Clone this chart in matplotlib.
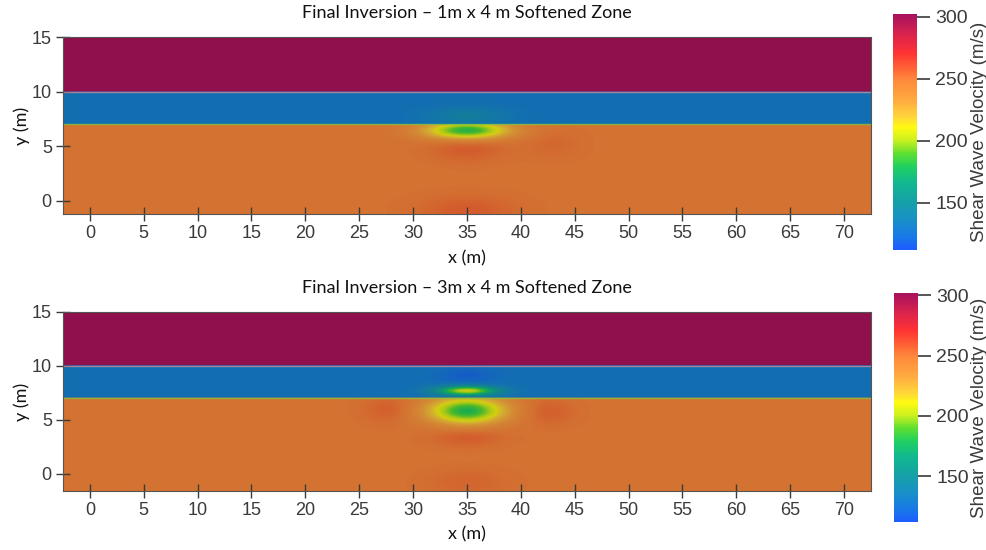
import numpy as np
import matplotlib.pyplot as plt
from matplotlib.colors import LinearSegmentedColormap, Normalize, to_rgb

# model extents (m)
x_min, x_max = -2.5, 72.5
y_max = 15.0
y_mins = [-1.2, -1.6]

# layered background, bottom to top
interfaces = [7.0, 10.0]
interface_colors = ["#8cc23a", "#c4909c"]
layer_vs = [249.0, 130.0, 300.0]

titles = ["Final Inversion – 1m x 4 m Softened Zone",
          "Final Inversion – 3m x 4 m Softened Zone"]

# recovered anomalies: centre x, centre y, spread x, spread y, Vs change (m/s)
anom_x = [[35.0, 35.0, 35.0, 35.0, 43.0],
          [35.0, 35.0, 35.0, 35.0, 35.0, 27.8, 42.5]]
anom_y = [[6.45, 7.8, 4.8, -0.9, 5.2],
          [9.1, 7.65, 5.8, 3.4, -0.8, 5.9, 5.7]]
anom_sx = [[2.7, 2.4, 2.2, 3.0, 1.8],
           [1.9, 1.9, 2.5, 2.2, 2.5, 1.6, 1.6]]
anom_sy = [[0.55, 0.5, 0.8, 0.9, 0.9],
           [0.5, 0.3, 0.85, 0.6, 0.8, 0.8, 0.8]]
anom_dv = [[-68.0, 12.0, 7.0, 7.0, 3.0],
           [-11.0, 78.0, -70.0, 7.0, 4.0, 6.0, 6.0]]

# colour scale
vs_min, vs_max = 112.0, 302.0
cbar_ticks = [150, 200, 250, 300]
cmap_vs = [112, 122, 136, 150, 166, 179, 190, 200, 211, 219, 233, 249, 257, 271, 284, 302]
cmap_hex = ["#1e5cff", "#1878e8", "#1890c8", "#16a0a8", "#10b890", "#20d060",
            "#60e030", "#c8f020", "#fffa10", "#ffd63a", "#ffaa40", "#ff8a3c",
            "#ff6a35", "#ff3333", "#e0254a", "#a8125e"]

TICK_FONT = "Liberation Sans"
TEXT_FONT = "Lato"
GREY = "#3a3a3a"


def make_cmaps(shade=0.83):
    pos = [(v - vs_min) / (vs_max - vs_min) for v in cmap_vs]
    bar = LinearSegmentedColormap.from_list("vs_bar", list(zip(pos, cmap_hex)))
    # the rendered section is lit, so it comes out darker than the legend
    rgb = [tuple(c * shade for c in to_rgb(h)) for h in cmap_hex]
    img = LinearSegmentedColormap.from_list("vs_img", list(zip(pos, rgb)))
    return bar, img


def build_field(xx, yy, i):
    layer = np.searchsorted(interfaces, yy)
    vs = np.asarray(layer_vs)[layer]
    for cx, cy, sx, sy, dv in zip(anom_x[i], anom_y[i], anom_sx[i], anom_sy[i], anom_dv[i]):
        k = np.searchsorted(interfaces, cy)
        g = dv * np.exp(-0.5 * (((xx - cx) / sx) ** 2 + ((yy - cy) / sy) ** 2))
        vs = vs + np.where(layer == k, g, 0.0)
    return vs


cmap_bar, cmap_img = make_cmaps()
norm = Normalize(vs_min, vs_max)

fig = plt.figure(figsize=(9.87, 5.5), dpi=100)

# panel boxes in figure fractions
ax_boxes = [[0.0638, 0.6109, 0.8186, 0.3218], [0.0638, 0.1073, 0.8186, 0.3255]]
cb_boxes = [[0.9048, 0.5455, 0.0243, 0.4282], [0.9058, 0.0509, 0.0243, 0.4164]]
title_y = [0.976, 0.476]
xlabel_y = [0.531, 0.028]

for i in range(2):
    ax = fig.add_axes(ax_boxes[i])
    xs = np.linspace(x_min, x_max, 1500)
    ys = np.linspace(y_mins[i], y_max, 700)
    xx, yy = np.meshgrid(xs, ys)
    vs = build_field(xx, yy, i)
    ax.imshow(vs, origin="lower", extent=[x_min, x_max, y_mins[i], y_max],
              cmap=cmap_img, norm=norm, aspect="auto", interpolation="antialiased")
    for yb, c in zip(interfaces, interface_colors):
        ax.axhline(yb, color=c, lw=1.0, alpha=0.8)
    ax.set_xlim(x_min, x_max)
    ax.set_ylim(y_mins[i], y_max)
    ax.set_xticks(np.arange(0, 75, 5))
    ax.set_yticks([0, 5, 10, 15])
    ax.tick_params(direction="inout", length=10, width=1, color=GREY, labelcolor=GREY,
                   labelsize=13, pad=3)
    for lab in ax.get_xticklabels() + ax.get_yticklabels():
        lab.set_fontfamily(TICK_FONT)
    for sp in ax.spines.values():
        sp.set_color("#555555")
        sp.set_linewidth(0.8)

    fig.text(0.473, title_y[i], titles[i], ha="center", va="center",
             fontsize=13, family=TEXT_FONT, color="#111111")
    fig.text(0.473, xlabel_y[i], "x (m)", ha="center", va="center",
             fontsize=13, family=TEXT_FONT, color="#111111")
    y_mid = ax_boxes[i][1] + ax_boxes[i][3] / 2
    fig.text(0.022, y_mid, "y (m)", ha="center", va="center", rotation=90,
             fontsize=13, family=TEXT_FONT, color="#111111")

    cax = fig.add_axes(cb_boxes[i])
    cb = fig.colorbar(plt.cm.ScalarMappable(norm=norm, cmap=cmap_bar), cax=cax)
    cb.outline.set_visible(False)
    cb.set_ticks(cbar_ticks)
    cax.tick_params(direction="out", length=9, width=1.2, color=GREY, labelcolor=GREY,
                    labelsize=14, pad=4)
    for lab in cax.get_yticklabels():
        lab.set_fontfamily(TICK_FONT)
    fig.text(0.992, cb_boxes[i][1] + cb_boxes[i][3] / 2, "Shear Wave Velocity (m/s)",
             ha="center", va="center", rotation=90, fontsize=13.5,
             family=TICK_FONT, color=GREY)

fig.savefig("out.png", dpi=100)
